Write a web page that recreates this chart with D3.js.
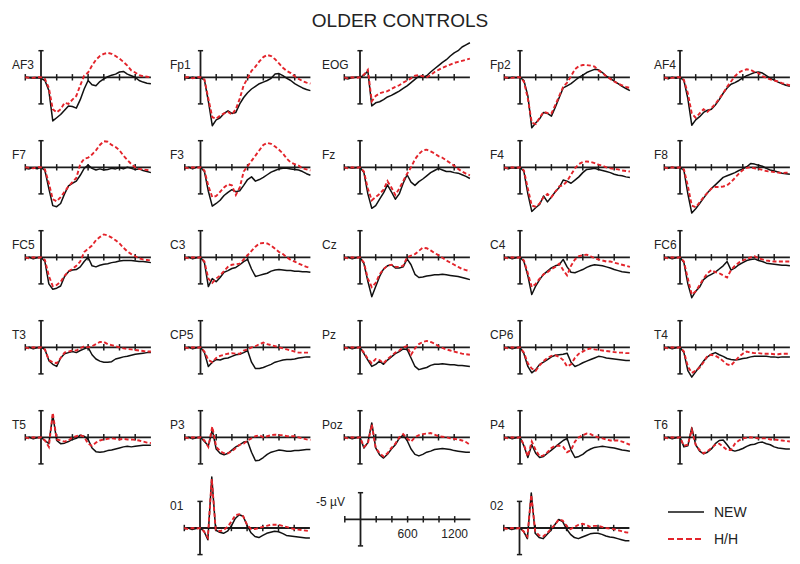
<!DOCTYPE html>
<html><head><meta charset="utf-8">
<script src="https://cdn.jsdelivr.net/npm/d3@7"></script>
<style>body{margin:0;background:#fff} text{font-family:"Liberation Sans",Arial,sans-serif;fill:#222}</style>
</head><body><svg id="c" width="800" height="564"></svg>
<script>
// time grid (ms) and tick labels
const times = [-200,-150,-100,-50,0,50,100,150,200,250,300,350,400,450,500,550,600,650,700,750,800,850,900,950,1000,1050,1100,1150,1200,1250,1300,1350,1400];
const xTicks = [-200,200,400,600,800,1000,1200];
const scaleLabels = [600,1200];
const channels = ["AF3","Fp1","EOG","Fp2","AF4","F7","F3","Fz","F4","F8","FC5","C3","Cz","C4","FC6","T3","CP5","Pz","CP6","T4","T5","P3","Poz","P4","T6","01","02"];
const seriesNames = ["NEW","H/H"];

// values in µV (negative plotted upward)
const AF3_new=[0,0.1,0.2,0.1,0.2,0.6,2.5,8.2,7.6,7.0,6.2,5.4,5.5,5.8,4.2,2.2,0.6,1.4,1.6,0.8,0.3,-0.1,-0.4,-0.6,-1.0,-1.1,-0.6,-0.3,0.0,0.6,0.9,1.1,1.2];
const AF3_hh=[0,0.1,0.1,0,0,0.3,2.0,6.0,6.6,6.0,4.8,5.0,4.2,3.5,1.5,-0.3,-0.9,-2.2,-3.3,-4.0,-4.4,-4.6,-4.4,-4.0,-3.5,-2.9,-2.2,-1.3,-0.9,-0.4,-0.2,-0.1,0];
const Fp1_new=[0.1,0.2,0,0.2,0.1,0.5,4.5,9.1,8.0,7.6,6.8,6.3,6.8,6.6,5.0,3.8,2.9,2.2,1.7,1.2,0.9,0.6,0.2,-0.6,-0.7,-0.3,0.2,0.6,1.2,1.6,2.0,2.3,2.5];
const Fp1_hh=[0,0,0.2,0,0,0.4,4.0,7.5,7.8,7.2,6.8,6.5,7.0,6.0,4.0,1.5,0.2,-1.2,-2.0,-3.0,-3.8,-4.2,-4.0,-3.4,-2.6,-1.8,-1.2,-0.8,-0.2,0.3,0.7,1.0,1.2];
const EOG_new=[0.2,0.3,0.1,0,0,-0.4,-1.2,5.4,4.8,4.6,4.2,3.7,3.4,3.0,2.6,2.1,1.6,1.0,0.4,-0.2,0.0,-0.3,-1.0,-1.6,-2.2,-2.8,-3.3,-4.0,-4.6,-5.0,-5.7,-6.1,-6.5];
const EOG_hh=[0,0.2,0,0.1,0,-0.5,-1.4,4.5,3.5,3.0,2.8,2.6,2.2,1.8,1.5,1.0,0.6,0.2,-0.3,-0.4,-0.2,0.0,-0.4,-1.0,-1.4,-1.8,-2.1,-2.4,-2.7,-2.9,-3.1,-3.3,-3.5];
const Fp2_new=[0.1,0.2,0,0.1,0,0.6,3.5,9.5,8.6,7.8,6.6,6.8,7.3,5.6,3.8,2.0,1.6,1.2,0.6,0.0,-0.4,-0.9,-1.2,-1.5,-1.4,-0.9,-0.2,0.2,0.7,1.2,1.7,2.1,2.5];
const Fp2_hh=[0,0.1,0.1,0,0,0.8,4.0,8.5,8.8,7.6,6.5,6.7,6.8,5.2,3.5,1.8,1.0,-0.2,-1.5,-2.1,-2.3,-2.3,-2.2,-2.0,-1.3,-0.8,-0.2,0.3,0.8,1.2,1.5,1.8,2.0];
const AF4_new=[0.1,0.3,0,0.2,0,0.6,4.0,9.0,8.0,7.4,6.6,6.2,6.0,5.2,4.2,3.0,2.0,1.3,1.0,0.6,0.1,-0.3,-0.6,-0.9,-1.0,-0.8,-0.3,0.2,0.5,0.9,1.2,1.5,1.7];
const AF4_hh=[0,0.2,0.1,0,0,0.5,3.0,6.8,7.6,6.8,6.0,6.5,5.8,5.0,4.0,3.0,1.8,0.8,-0.2,-0.9,-1.3,-1.5,-1.4,-1.0,-0.8,-0.2,0.1,0.4,0.6,0.8,1.1,1.3,1.5];
const F7_new=[0.2,0.3,0.1,0.3,0,0.6,4.0,7.2,7.4,6.8,5.0,3.5,3.0,2.6,1.5,0.2,-0.4,0.2,0.5,0.3,0.5,0.4,0.2,0.3,0.1,0.3,0.0,0.2,0.4,0.3,0.6,0.8,1.0];
const F7_hh=[0,0.1,0.2,0,0,0.4,3.0,6.0,6.4,5.6,4.6,3.6,2.8,2.0,-0.6,-1.6,-1.8,-2.4,-3.2,-4.2,-4.9,-4.8,-4.2,-3.8,-3.2,-2.2,-1.4,-0.6,0.0,0.3,0.4,0.5,0.6];
const F3_new=[0.2,0,0.3,0,0,0.8,4.5,7.3,6.8,6.2,5.3,4.7,4.2,4.6,4.4,3.4,2.3,1.8,2.6,2.3,1.9,1.4,0.9,0.6,0.3,0.2,0.2,0.3,0.4,0.5,0.8,1.2,1.5];
const F3_hh=[0,0.2,0,0.1,0,0.6,3.5,5.6,5.4,4.6,3.8,3.2,3.4,5.2,3.8,0.8,-0.2,-1.2,-2.2,-3.2,-4.2,-4.6,-4.4,-3.9,-3.3,-2.6,-1.6,-0.9,-0.6,-0.3,0.2,0.4,0.6];
const Fz_new=[0.2,0,0.2,0.1,0,1.0,5.0,7.7,7.2,6.0,4.8,3.3,4.6,6.0,5.0,3.0,1.4,2.8,3.4,2.7,2.2,1.6,1.0,0.6,0.2,0.5,0.8,0.8,1.0,1.1,1.4,1.7,2.1];
const Fz_hh=[0,0.2,0,0.1,0,0.8,4.0,6.2,5.6,5.0,4.2,2.6,3.8,5.2,4.0,2.6,1.2,0.0,-1.5,-2.5,-3.2,-3.3,-3.0,-2.6,-2.1,-1.8,-1.3,-0.8,-0.3,0.3,0.8,1.2,1.5];
const F4_new=[0.1,0.3,0.1,0.2,0,0.8,5.0,8.3,7.6,7.0,5.4,6.5,5.6,4.6,3.8,2.4,2.6,3.0,2.4,1.8,1.0,0.4,0.3,0.2,0.4,0.6,0.8,1.0,1.3,1.5,1.6,1.8,1.9];
const F4_hh=[0,0.2,0,0.1,0,0.6,4.0,7.2,7.4,6.8,5.6,5.0,5.6,4.6,3.6,3.4,2.6,1.4,0.2,-0.6,-1.0,-1.1,-1.0,-0.8,-0.5,-0.3,0.0,0.2,0.3,0.4,0.6,0.7,0.8];
const F8_new=[0.1,0.2,0,0.2,0,0.6,5.0,8.6,7.8,6.8,5.8,4.8,4.0,3.3,2.6,1.9,1.6,1.3,1.0,0.6,0.3,-0.1,-0.7,-0.6,-0.4,-0.2,0.2,0.5,0.7,0.9,1.1,1.2,1.3];
const F8_hh=[0,0.2,0,0.1,0,0.4,3.5,7.2,7.5,6.6,5.6,4.8,4.0,3.7,3.7,3.6,3.4,2.8,2.0,1.2,0.5,0.1,0.0,0.2,0.3,0.5,0.7,0.8,0.9,1.0,1.1,1.0,1.0];
const FC5_new=[0.2,0,0.3,0.1,0,0.8,5.0,6.0,5.8,5.4,3.6,2.7,2.4,2.3,1.8,0.8,0.0,1.6,1.8,1.5,1.3,1.2,1.0,0.9,0.7,0.6,0.6,0.6,0.7,0.8,0.8,0.9,1.0];
const FC5_hh=[0,0.2,0,0.1,0,0.5,3.5,5.4,5.2,4.6,3.5,2.6,2.2,1.6,0.8,-1.0,-1.6,-2.2,-3.2,-3.8,-4.3,-4.1,-3.7,-3.2,-2.6,-1.8,-1.1,-0.6,-0.2,0.2,0.4,0.5,0.6];
const C3_new=[0.2,0,0.3,0.1,0,1.0,5.5,4.0,4.6,3.8,2.8,2.5,2.1,1.9,1.4,0.8,0.4,2.2,3.6,3.4,3.2,3.0,2.6,2.4,2.3,2.4,2.5,2.5,2.6,2.6,2.7,2.7,2.8];
const C3_hh=[0,0.2,0,0.1,0,0.8,4.0,4.8,4.0,3.4,2.6,1.8,1.4,1.3,1.2,0.4,-0.4,-1.2,-2.0,-2.6,-2.7,-2.6,-2.2,-1.6,-1.0,-0.6,0.0,0.5,0.8,1.2,1.5,1.8,2.0];
const Cz_new=[0.2,0,0.3,0.1,0,1.2,4.5,7.4,5.5,3.6,2.2,1.6,1.4,2.0,2.0,1.8,0.3,1.4,3.2,3.8,3.7,3.5,3.4,3.3,3.3,3.2,3.3,3.4,3.5,3.6,3.8,4.0,4.2];
const Cz_hh=[0,0.2,0,0.1,0,1.0,4.0,5.6,4.8,3.2,2.2,1.6,1.4,1.8,1.8,1.6,0.0,-0.3,-0.6,-1.2,-1.8,-1.7,-1.3,-0.8,-0.4,0.1,0.6,1.0,1.4,1.8,2.2,2.4,2.6];
const C4_new=[0.2,0,0.3,0.1,0,0.8,3.5,7.0,5.4,4.2,3.2,2.6,2.0,1.6,1.4,0.4,1.8,2.8,2.9,2.6,2.3,1.9,1.6,1.4,1.5,1.6,1.8,2.0,2.3,2.5,2.7,2.8,2.9];
const C4_hh=[0,0.2,0,0.1,0,0.6,3.0,5.6,5.0,4.0,3.2,2.8,2.2,1.8,1.2,2.4,3.4,1.6,0.4,-0.2,-0.4,-0.5,-0.2,0.2,0.4,0.6,0.8,0.8,1.0,1.2,1.4,1.6,1.8];
const FC6_new=[0.2,0,0.3,0.1,0,1.0,5.0,7.6,6.4,5.6,4.2,3.6,3.2,2.8,2.2,1.6,0.8,2.4,2.0,1.4,1.0,0.6,0.4,0.3,0.6,0.8,1.1,1.2,1.3,1.4,1.5,1.5,1.6];
const FC6_hh=[0,0.2,0,0.1,0,0.8,4.0,7.0,6.4,5.2,4.0,3.0,2.4,2.8,3.0,3.4,3.8,2.4,1.6,1.0,0.6,0.3,0.0,-0.2,0.2,0.4,0.6,0.7,0.8,0.8,0.8,0.8,0.8];
const T3_new=[0.2,0,0.3,0.1,0,0.4,2.5,3.2,3.6,2.0,1.2,1.0,0.8,1.0,0.6,0.3,0.0,1.4,2.2,2.6,2.8,2.8,2.7,2.2,2.0,1.8,1.7,1.5,1.3,1.2,1.1,1.0,1.0];
const T3_hh=[0,0.2,0,0.1,0,0.4,2.4,2.8,3.0,2.0,1.0,0.8,0.6,0.6,0.2,-0.2,0.0,-0.2,-0.6,-1.0,-1.0,-0.6,-0.4,-0.2,0.0,0.2,0.3,0.4,0.5,0.6,0.7,0.8,0.8];
const CP5_new=[0.2,0,0.3,0.1,0,1.0,3.6,2.8,2.3,2.4,2.1,2.0,1.7,1.4,1.3,1.0,0.6,2.8,4.0,4.0,3.8,3.5,3.2,2.8,2.6,2.4,2.3,2.3,2.2,2.0,1.9,1.8,1.8];
const CP5_hh=[0,0.2,0,0.1,0,0.8,2.4,2.8,2.0,1.6,1.4,1.2,1.1,1.2,1.2,0.6,0.4,0.0,-0.2,-0.6,-0.9,-0.6,-0.4,-0.2,0.0,0.2,0.4,0.6,0.8,1.0,1.0,1.0,1.0];
const Pz_new=[0.2,0,0.3,0.1,0,1.2,2.4,3.6,3.2,2.6,3.2,2.4,1.8,1.2,0.8,0.3,0.4,2.0,3.6,4.2,4.0,3.8,3.4,3.2,3.2,3.1,3.2,3.3,3.3,3.4,3.4,3.5,3.6];
const Pz_hh=[0,0.2,0,0.1,0,1.0,2.2,3.0,2.2,2.4,3.0,2.2,1.6,1.0,0.6,0.0,-0.2,1.4,0.2,-0.6,-1.0,-1.2,-1.0,-0.7,-0.2,0.1,0.4,0.6,0.8,1.0,1.2,1.3,1.4];
const CP6_new=[0.2,0,0.3,0.1,0,1.2,3.6,4.8,4.2,3.2,2.8,2.3,1.8,1.5,1.4,1.3,1.1,2.8,3.6,3.3,2.9,2.6,2.3,2.0,1.7,1.8,2.0,2.1,2.2,2.3,2.4,2.5,2.5];
const CP6_hh=[0,0.2,0,0.1,0,1.0,3.0,4.0,4.4,3.4,2.6,2.0,1.6,1.5,1.8,2.4,3.6,3.2,2.0,1.2,0.8,0.4,0.2,0.4,0.5,0.6,0.7,0.8,0.9,1.0,1.0,1.1,1.1];
const T4_new=[0.2,0,0.3,0.1,0,1.0,4.4,5.6,4.6,3.6,2.6,1.8,1.3,1.0,1.4,1.7,2.1,2.3,2.4,2.3,2.1,2.0,1.8,1.7,1.7,1.7,1.7,1.8,1.8,1.9,1.8,1.8,1.8];
const T4_hh=[0,0.2,0,0.1,0,0.8,3.6,4.8,4.4,3.8,2.8,1.6,1.4,1.6,2.0,2.6,3.2,3.4,2.6,1.8,1.2,0.8,1.0,1.1,1.1,1.2,1.2,1.2,1.3,1.3,1.2,1.2,1.2];
const T5_new=[0.2,0,0.3,0.1,0,0.6,1.2,-4.2,0.6,1.2,1.1,0.8,0.4,0.2,-0.4,-0.2,0.4,2.0,2.7,2.8,2.7,2.5,2.4,2.2,2.0,1.8,1.7,1.8,1.7,1.6,1.5,1.5,1.5];
const T5_hh=[0,0.2,0,0.1,0,0.6,1.8,-4.6,0.4,0.6,0.8,0.6,0.0,-0.2,-0.4,-0.1,1.2,1.6,1.0,0.6,0.4,0.3,0.2,0.3,0.4,0.3,0.4,0.4,0.5,0.6,0.8,1.0,1.1];
const P3_new=[0.2,0,0.3,0.1,0,0.8,1.6,-1.4,2.2,3.0,3.3,3.0,2.4,1.8,1.4,0.9,0.8,2.8,4.4,4.3,3.8,3.2,2.8,2.6,2.4,2.5,2.6,2.6,2.5,2.5,2.4,2.3,2.3];
const P3_hh=[0,0.2,0,0.1,0,0.6,1.8,-2.0,1.8,2.6,3.0,3.0,2.6,2.0,1.4,1.2,0.6,0.2,-0.2,-0.4,0.0,-0.2,-0.4,-0.5,-0.4,-0.4,-0.2,-0.2,-0.2,0.0,0.2,0.4,0.5];
const Poz_new=[0.2,0,0.3,0.1,0,2.0,1.0,-2.7,2.0,3.3,3.9,3.2,2.2,1.4,0.2,-0.4,0.6,2.2,3.2,3.5,3.2,2.8,2.6,2.3,2.2,2.1,2.2,2.3,2.5,2.6,2.7,2.8,2.8];
const Poz_hh=[0,0.2,0,0.1,0,1.8,1.2,-2.4,2.0,3.0,3.6,3.0,2.0,1.2,0.0,-0.6,0.2,0.8,0.0,-0.4,-0.6,-0.7,-0.8,-0.5,-0.2,-0.1,0.0,0.2,0.3,0.4,0.6,0.9,1.4];
const P4_new=[0.2,0,0.3,0.1,0,1.6,3.8,1.4,3.0,3.8,3.6,3.0,2.4,1.8,1.2,0.6,0.2,2.4,3.8,3.6,3.2,2.6,2.2,1.9,1.8,1.7,1.8,1.9,2.0,2.2,2.4,2.5,2.6];
const P4_hh=[0,0.2,0,0.1,0,1.4,3.6,0.8,2.4,3.6,3.4,2.8,2.0,1.6,1.6,1.8,2.8,2.4,0.8,0.0,-0.4,-0.7,-0.6,-0.2,0.0,0.2,0.4,0.6,0.6,0.6,0.8,1.1,1.4];
const T6_new=[0.2,0,0.3,0.1,0,1.8,1.6,-1.8,1.4,2.6,3.1,2.8,2.2,1.2,0.6,0.5,1.4,2.4,2.6,2.4,2.1,1.7,1.4,1.3,1.0,0.9,1.2,1.4,1.8,2.0,2.1,2.2,2.2];
const T6_hh=[0,0.2,0,0.1,0,1.6,1.4,-1.4,1.4,2.4,3.0,2.6,2.0,1.4,1.2,1.8,2.4,2.4,1.2,0.6,0.2,0.1,0.0,0.1,0.2,0.2,0.2,0.4,0.4,0.5,0.6,0.7,0.8];
const O1_new=[0.2,0,0.3,0.1,0,0.6,2.2,-9.6,0.4,0.8,1.0,0.6,-0.4,-1.8,-2.5,-2.2,-0.5,0.9,1.6,1.8,1.4,1.0,0.8,0.6,0.7,1.0,1.4,1.5,1.6,1.7,1.8,1.9,1.9];
const O1_hh=[0,0.2,0,0.1,0,0.6,1.8,-9.2,0.3,0.6,0.4,-0.2,-1.2,-2.4,-2.6,-2.2,-0.6,0.2,0.2,0.0,-0.2,-0.4,-0.6,-0.6,-0.6,-0.4,-0.2,0.0,0.2,0.3,0.4,0.5,0.6];
const O2_new=[0.2,0,0.3,0.1,0,0.6,2.0,-6.6,1.0,1.8,2.0,1.2,0.4,-0.6,-1.6,-1.2,0.2,1.2,1.8,2.0,1.7,1.4,1.1,1.0,1.0,1.2,1.5,1.7,1.8,2.0,2.2,2.4,2.4];
const O2_hh=[0,0.2,0,0.1,0,0.6,1.6,-6.2,0.6,1.4,1.6,1.0,0.2,-0.6,-1.6,-1.4,-0.4,0.2,-0.2,-0.6,-0.8,-0.6,-0.2,-0.4,-0.4,-0.2,0.0,0.1,0.2,0.4,0.6,0.8,0.9];

const newSeries=[AF3_new,Fp1_new,EOG_new,Fp2_new,AF4_new,F7_new,F3_new,Fz_new,F4_new,F8_new,FC5_new,C3_new,Cz_new,C4_new,FC6_new,T3_new,CP5_new,Pz_new,CP6_new,T4_new,T5_new,P3_new,Poz_new,P4_new,T6_new,O1_new,O2_new];
const hhSeries=[AF3_hh,Fp1_hh,EOG_hh,Fp2_hh,AF4_hh,F7_hh,F3_hh,Fz_hh,F4_hh,F8_hh,FC5_hh,C3_hh,Cz_hh,C4_hh,FC6_hh,T3_hh,CP5_hh,Pz_hh,CP6_hh,T4_hh,T5_hh,P3_hh,Poz_hh,P4_hh,T6_hh,O1_hh,O2_hh];

// layout
const colX=[41,200.5,360,520,680];
const rowY=[77.3,167.3,257.3,347.3,437.3];
const labelX=[12,170,322,490,654];
const RED="#e3242b", INK="#1c1c1c";

const svg=d3.select("#c");
svg.append("text").attr("x",400).attr("y",27).attr("text-anchor","middle")
  .attr("font-size",19).text("OLDER CONTROLS");

const x=d3.scaleLinear().domain([-200,1400]).range([-15.7,109.9]);
const y=d3.scaleLinear().domain([-5,5]).range([-26.6,26.6]);
const line=d3.line().x((d,i)=>x(times[i])).y(d=>y(d));

function drawAxes(g){
  g.append("line").attr("x1",x(-200)).attr("x2",x(1400)).attr("y1",y(0)).attr("y2",y(0))
    .attr("stroke",INK).attr("stroke-width",1.8);
  g.selectAll("line.tk").data(xTicks).enter().append("line").attr("class","tk")
    .attr("x1",d=>x(d)).attr("x2",d=>x(d)).attr("y1",-3.2).attr("y2",3.2)
    .attr("stroke",INK).attr("stroke-width",1.5);
  g.append("line").attr("x1",x(0)).attr("x2",x(0)).attr("y1",y(-5)).attr("y2",y(5))
    .attr("stroke",INK).attr("stroke-width",1.8);
  [-5,5].forEach(v=>g.append("line").attr("x1",x(0)-2.6).attr("x2",x(0)+2.6)
    .attr("y1",y(v)).attr("y2",y(v)).attr("stroke",INK).attr("stroke-width",1.5));
}

channels.forEach((ch,i)=>{
  let cx,cy,lx,ly;
  if(i<25){ const r=Math.floor(i/5), c=i%5; cx=colX[c]; cy=rowY[r]; lx=labelX[c]; ly=cy-8; }
  else { const c=(i===25)?1:3; cx=colX[c]-0.5; cy=528; lx=labelX[c]; ly=cy-18; }
  const g=svg.append("g").attr("transform",`translate(${cx},${cy})`);
  drawAxes(g);
  g.append("path").attr("d",line(newSeries[i])).attr("fill","none")
    .attr("stroke","#111").attr("stroke-width",1.5).attr("stroke-linejoin","round");
  g.append("path").attr("d",line(hhSeries[i])).attr("fill","none")
    .attr("stroke",RED).attr("stroke-width",1.9).attr("stroke-dasharray","4,2.4");
  svg.append("text").attr("x",lx).attr("y",ly).attr("font-size",12).text(ch);
});

// scale panel
const sg=svg.append("g").attr("transform","translate(360.5,519.3)");
drawAxes(sg);
sg.selectAll("text.sl").data(scaleLabels).enter().append("text").attr("class","sl")
  .attr("x",d=>x(d)).attr("y",19).attr("text-anchor","middle").attr("font-size",12).text(d=>d);
svg.append("text").attr("x",345).attr("y",506).attr("text-anchor","end").attr("font-size",12).text("-5 µV");

// legend
const lg=svg.append("g");
seriesNames.forEach((s,i)=>{
  const yy=512+i*27;
  lg.append("line").attr("x1",668).attr("x2",704).attr("y1",yy).attr("y2",yy)
    .attr("stroke",i===0?"#111":RED).attr("stroke-width",i===0?1.6:1.9)
    .attr("stroke-dasharray",i===0?null:"6,3");
  lg.append("text").attr("x",714).attr("y",yy+5).attr("font-size",14).text(s);
});
</script></body></html>
